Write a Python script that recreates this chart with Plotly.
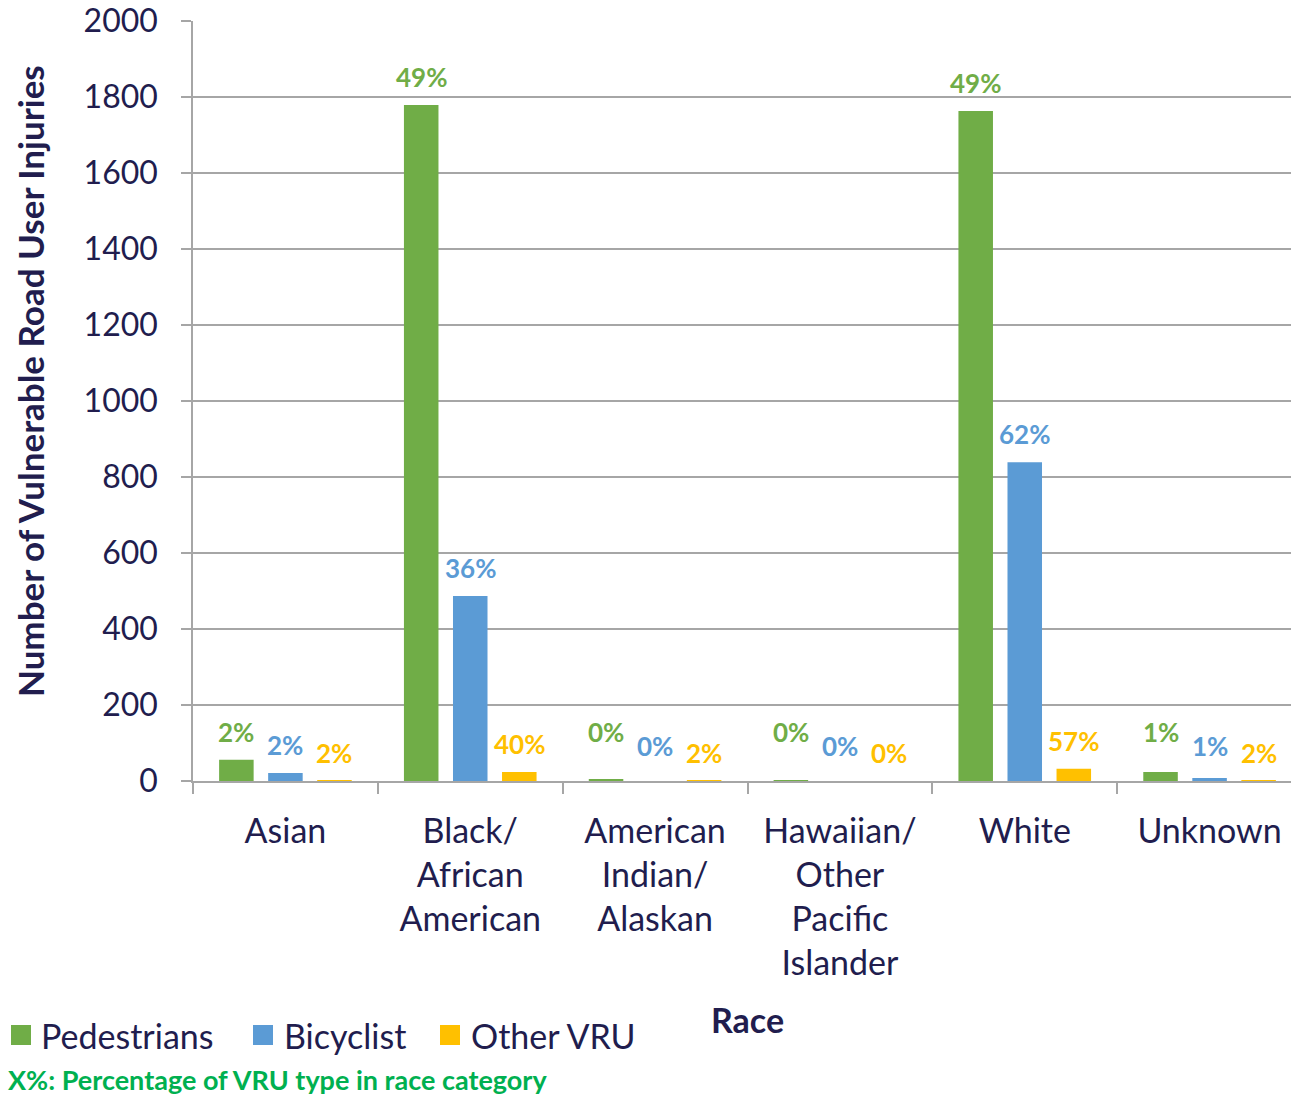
import plotly.graph_objects as go

categories = ["Asian", "Black/<br>African<br>American", "American<br>Indian/<br>Alaskan",
              "Hawaiian/<br>Other<br>Pacific<br>Islander", "White", "Unknown"]
series_names = ["Pedestrians", "Bicyclist", "Other VRU"]
pedestrians = [56, 1779, 5, 1, 1763, 24]
bicyclist = [21, 487, 0, 0, 839, 8]
other_vru = [1, 24, 1, 0, 32, 1]
ped_pct = ["2%", "49%", "0%", "0%", "49%", "1%"]
bike_pct = ["2%", "36%", "0%", "0%", "62%", "1%"]
other_pct = ["2%", "40%", "2%", "0%", "57%", "2%"]
y_ticks = [0, 200, 400, 600, 800, 1000, 1200, 1400, 1600, 1800, 2000]

colors = ["#70AD47", "#5B9BD5", "#FFC000"]
navy = "#211D4E"
FONT = "Lato"

# the reference's plot area runs slightly past the right edge of the window
W, H = 1302, 1095
L, R, T, B = 193, 0, 21, 314
PW, PH = W - L - R, H - T - B


def px_x(p):
    return (p - L) / PW


def px_y(p):
    return (H - B - p) / PH


fig = go.Figure()
values = [pedestrians, bicyclist, other_vru]
pcts = [ped_pct, bike_pct, other_pct]
for name, vals, col in zip(series_names, values, colors):
    fig.add_trace(go.Bar(x=categories, y=vals, name=name, marker_color=col,
                         marker_line_width=0, showlegend=False))

# data labels
units_per_px = 2000 / PH
gap = 28 * units_per_px
floors_px = [732, 746, 760]
shifts = [-49, 0, 49]
for vals, labels, col, fl, sh in zip(values, pcts, colors, floors_px, shifts):
    floor_units = (H - B - fl) * units_per_px
    for c, v, t in zip(categories, vals, labels):
        fig.add_annotation(x=c, y=max(v + gap, floor_units), text=f"<b>{t}</b>",
                           xshift=sh, showarrow=False, yanchor="middle",
                           font=dict(family=FONT, size=26, color=col))

# manual legend
legend_items = [(11, 41), (253, 284), (440, 471)]
for (sq, tx), name, col in zip(legend_items, series_names, colors):
    fig.add_shape(type="rect", xref="paper", yref="paper",
                  x0=px_x(sq), x1=px_x(sq + 20), y0=px_y(1045), y1=px_y(1025),
                  fillcolor=col, line_width=0)
    fig.add_annotation(xref="paper", yref="paper", x=px_x(tx - 2), y=px_y(1035),
                       text=name, showarrow=False, xanchor="left", yanchor="middle",
                       font=dict(family=FONT, size=34, color=navy))

fig.add_annotation(xref="paper", yref="paper", x=px_x(747), y=px_y(1020),
                   text="<b>Race</b>", showarrow=False, xanchor="center", yanchor="middle",
                   font=dict(family=FONT, size=34, color=navy))
fig.add_annotation(xref="paper", yref="paper", x=px_x(30), y=px_y(381),
                   text="<b>Number of Vulnerable Road User Injuries</b>", textangle=-90,
                   showarrow=False, xanchor="center", yanchor="middle",
                   font=dict(family=FONT, size=35, color=navy))
fig.add_annotation(xref="paper", yref="paper", x=px_x(6), y=px_y(1079),
                   text="<b>X%: Percentage of VRU type in race category</b>",
                   showarrow=False, xanchor="left", yanchor="middle",
                   font=dict(family=FONT, size=27, color="#00B050"))

fig.update_layout(
    width=W, height=H,
    margin=dict(l=L, r=R, t=T, b=B),
    plot_bgcolor="white", paper_bgcolor="white",
    barmode="group", bargap=0.204, bargroupgap=0.296,
    font=dict(family=FONT, color=navy),
)
fig.update_xaxes(
    type="category", showline=True, linecolor="#A6A6A6", linewidth=1.5,
    ticks="outside", tickson="boundaries", ticklen=11, tickcolor="#A6A6A6", tickwidth=1.5,
    tickfont=dict(family=FONT, size=34, color=navy), tickangle=0,
    ticklabelstandoff=19, showgrid=False,
)
fig.update_yaxes(
    range=[0, 2000], tickvals=y_ticks, showline=True, linecolor="#A6A6A6", linewidth=1.5,
    ticks="outside", ticklen=10, tickcolor="#A6A6A6", tickwidth=1.5,
    showgrid=True, gridcolor="#A6A6A6", gridwidth=1.5, zeroline=False,
    tickfont=dict(family=FONT, size=32, color=navy), ticklabelstandoff=17,
)

fig.write_html("out.html", config={"displayModeBar": False},
               post_script="document.body.style.margin='0';"
                           "document.body.style.overflow='hidden';"
                           "document.documentElement.style.overflow='hidden';")
